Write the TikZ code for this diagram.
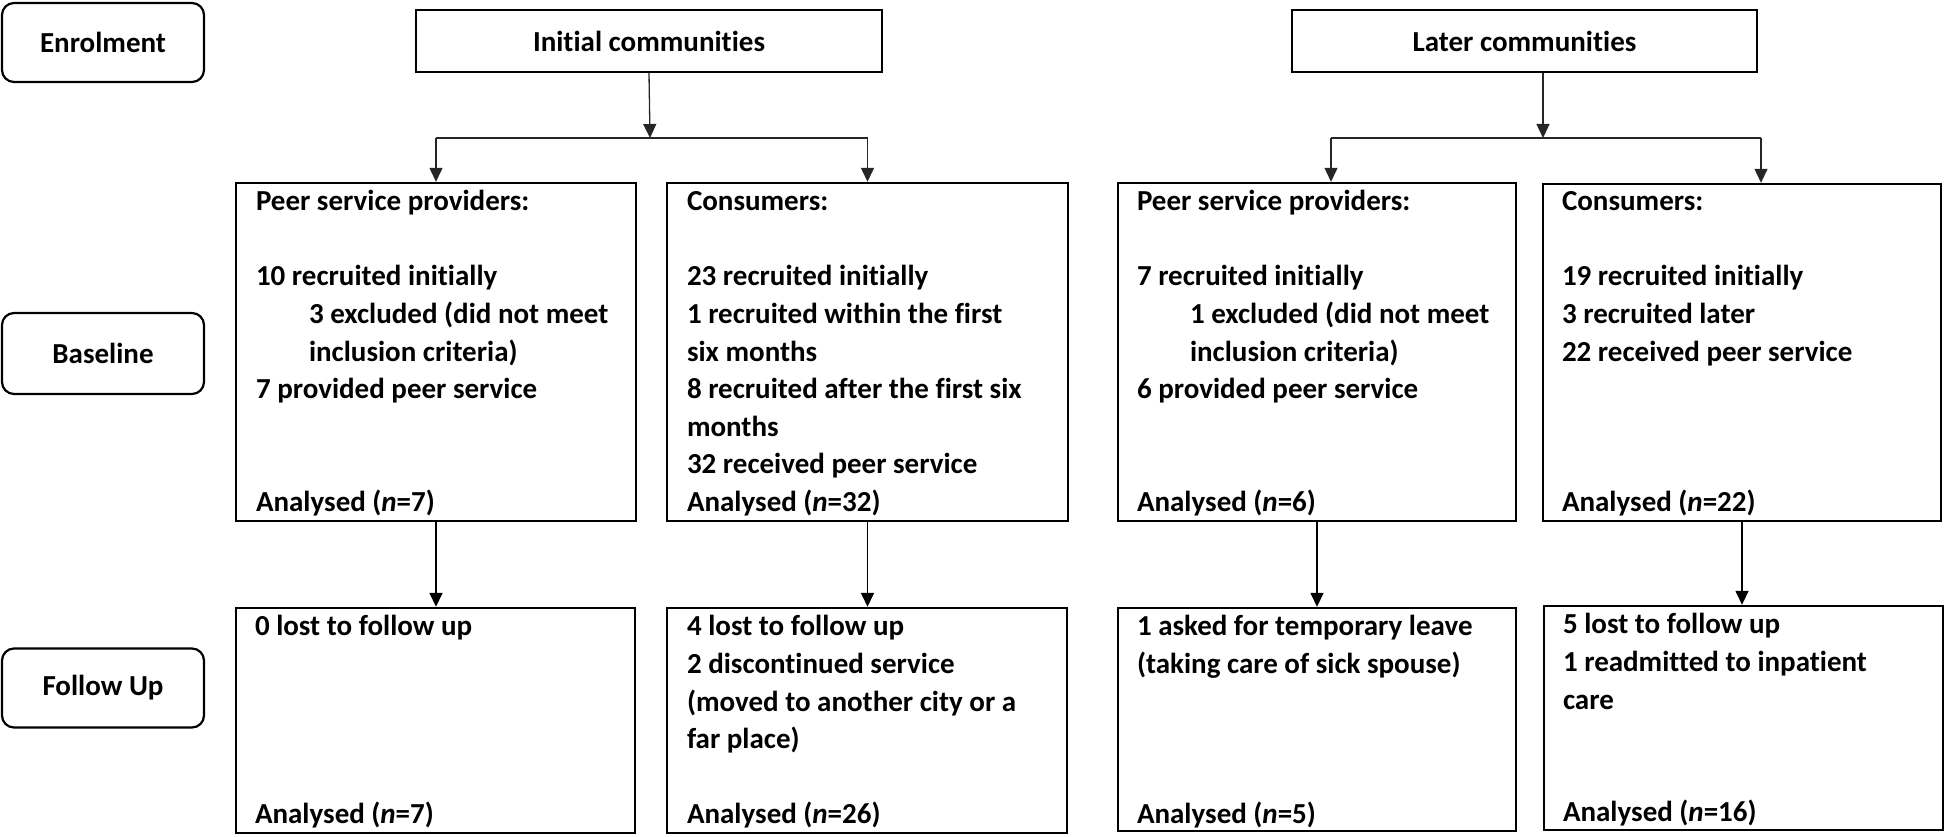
\documentclass[tikz,border=0pt]{standalone}
\usepackage{fontspec}
\setmainfont{Carlito}[Ligatures=NoCommon]
\usetikzlibrary{arrows.meta}

% one blank row of the text grid
\newcommand{\gap}[1]{\\[#1\dimexpr 37.6pt\relax]}
\newcommand{\ind}{\hspace*{53pt}}

\begin{document}
\begin{tikzpicture}[x=1pt, y=-1pt]

% Fix the canvas to the size of the figure
\useasboundingbox (0,0) rectangle (1946,837);

% Define styles for phases, group boxes and data boxes
\tikzstyle{phase} = [draw, rounded corners=12pt, line width=2.2pt, inner sep=0pt, minimum width=202pt, font=\fontsize{29}{37.6}\selectfont\bfseries]
\tikzstyle{group} = [draw, line width=2.2pt, inner sep=0pt, minimum width=466pt, minimum height=62pt, font=\fontsize{29}{37.6}\selectfont\bfseries]
\tikzstyle{cell} = [draw, line width=2.4pt, inner sep=0pt]
\tikzstyle{info} = [anchor=base west, inner sep=0pt, font=\fontsize{29}{37.6}\selectfont\bfseries]

% Define styles for connectors
\tikzstyle{branch} = [line width=1.3pt, black!85]
\tikzstyle{link} = [branch, -{Triangle[width=13pt, length=14pt]}]
\tikzstyle{drop} = [line width=1.6pt, -{Triangle[width=13pt, length=14pt]}]

% Phases on the left
\node[phase, minimum height=79pt] (enrol) at (103,42.5) {Enrolment};
\node[phase, minimum height=81pt] (base) at (103,353.5) {Baseline};
\node[phase, minimum height=79pt] (follow) at (103,688) {Follow Up};

% Communities
\node[group] (initc) at (649,41) {Initial communities};
\node[group, minimum width=465pt] (laterc) at (1524.5,41) {Later communities};

% Baseline boxes
\node[cell, minimum width=400pt, minimum height=338pt] (ipsp) at (436,352) {};
\node[cell, minimum width=401pt, minimum height=338pt] (icons) at (867.5,352) {};
\node[cell, minimum width=398pt, minimum height=338pt] (lpsp) at (1317,352) {};
\node[cell, minimum width=398pt, minimum height=337pt] (lcons) at (1742,352.5) {};

% Follow up boxes
\node[cell, minimum width=399pt, minimum height=225pt] (ifpsp) at (435.5,720.5) {};
\node[cell, minimum width=400pt, minimum height=225pt] (ifcons) at (867,720.5) {};
\node[cell, minimum width=398pt, minimum height=223pt] (lfpsp) at (1317,719.5) {};
\node[cell, minimum width=399pt, minimum height=224pt] (lfcons) at (1743.5,718) {};

% Texts of the baseline boxes
\node[info] (ipsp-t) at ([shift={(21,29)}]ipsp.north west) {\parbox[t]{380pt}{%
    Peer service providers:\gap{1}
    10 recruited initially\\
    \ind 3 excluded (did not meet\\
    \ind inclusion criteria)\\
    7 provided peer service\gap{2}
    Analysed (\textit{n}=7)}};
\node[info] (icons-t) at ([shift={(21,29)}]icons.north west) {\parbox[t]{380pt}{%
    Consumers:\gap{1}
    23 recruited initially\\
    1 recruited within the first\\
    six months\\
    8 recruited after the first six\\
    months\\
    32 received peer service\\
    Analysed (\textit{n}=32)}};
\node[info] (lpsp-t) at ([shift={(20,29)}]lpsp.north west) {\parbox[t]{380pt}{%
    Peer service providers:\gap{1}
    7 recruited initially\\
    \ind 1 excluded (did not meet\\
    \ind inclusion criteria)\\
    6 provided peer service\gap{2}
    Analysed (\textit{n}=6)}};
\node[info] (lcons-t) at ([shift={(20,28)}]lcons.north west) {\parbox[t]{380pt}{%
    Consumers:\gap{1}
    19 recruited initially\\
    3 recruited later\\
    22 received peer service\gap{3}
    Analysed (\textit{n}=22)}};

% Texts of the follow up boxes
\node[info] (ifpsp-t) at ([shift={(20,29)}]ifpsp.north west) {\parbox[t]{380pt}{%
    0 lost to follow up\gap{4}
    Analysed (\textit{n}=7)}};
\node[info] (ifcons-t) at ([shift={(21,29)}]ifcons.north west) {\parbox[t]{380pt}{%
    4 lost to follow up\\
    2 discontinued service\\
    (moved to another city or a\\
    far place)\gap{1}
    Analysed (\textit{n}=26)}};
\node[info] (lfpsp-t) at ([shift={(20,29)}]lfpsp.north west) {\parbox[t]{380pt}{%
    1 asked for temporary leave\\
    (taking care of sick spouse)\gap{3}
    Analysed (\textit{n}=5)}};
\node[info] (lfcons-t) at ([shift={(20,29)}]lfcons.north west) {\parbox[t]{380pt}{%
    5 lost to follow up\\
    1 readmitted to inpatient\\
    care\gap{2}
    Analysed (\textit{n}=16)}};

% Split points under the communities
\coordinate (isplit) at (650,138);
\coordinate (lsplit) at (1543,138);
\coordinate (lleft) at (1331,138);
\coordinate (lright) at (1761,138);

% Connectors from the initial communities
\draw[link] (initc.south) -- (isplit);
\draw[branch] (ipsp.north |- isplit) -- (icons.north |- isplit);
\draw[link] (ipsp.north |- isplit) -- (ipsp.north);
\draw[link] (icons.north |- isplit) -- (icons.north);

% Connectors from the later communities
\draw[link] (lsplit |- laterc.south) -- (lsplit);
\draw[branch] (lleft) -- (lright);
\draw[link] (lleft) -- (lleft |- lpsp.north);
\draw[link] (lright) -- (lright |- lcons.north);

% Baseline to follow up
\draw[drop] (ipsp.south) -- (ipsp.south |- ifpsp.north);
\draw[drop] (icons.south) -- (icons.south |- ifcons.north);
\draw[drop] (lpsp.south) -- (lpsp.south |- lfpsp.north);
\draw[drop] (lcons.south) -- (lcons.south |- lfcons.north);

\end{tikzpicture}
\end{document}
